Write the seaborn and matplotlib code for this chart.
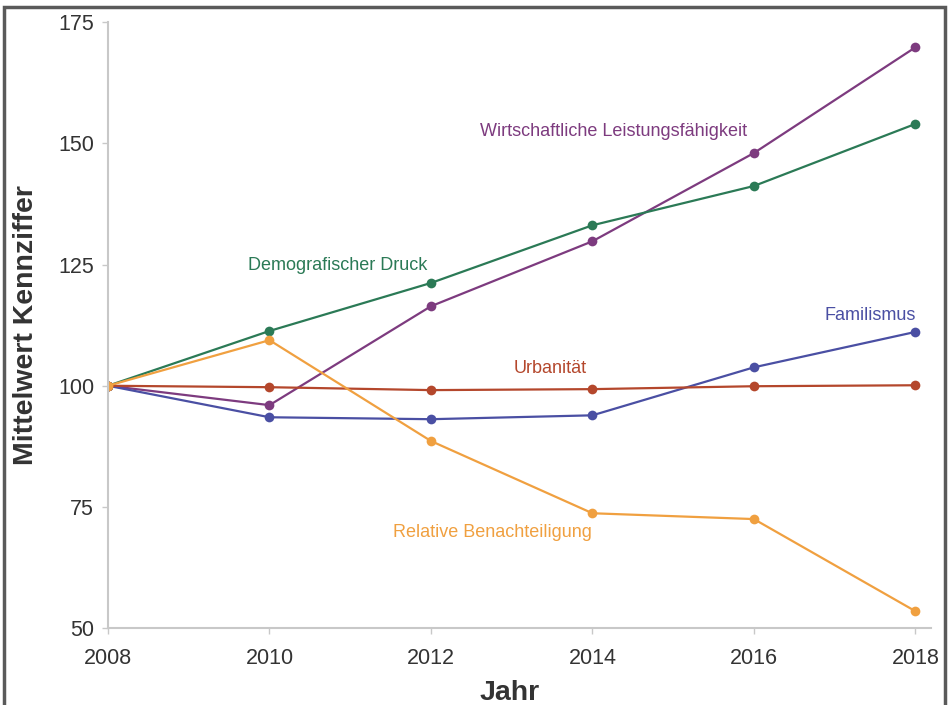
import matplotlib
matplotlib.use("Agg")
import matplotlib.pyplot as plt
from matplotlib.patches import Rectangle
import pandas as pd
import seaborn as sns

# Data
years = [2008, 2010, 2012, 2014, 2016, 2018]
wirtschaft = [100, 96.0, 116.4, 129.8, 148.0, 169.8]
demografie = [100, 111.3, 121.2, 133.1, 141.2, 154.0]
familismus = [100, 93.5, 93.1, 93.9, 103.8, 111.1]
urbanitaet = [100, 99.7, 99.1, 99.3, 99.9, 100.1]
benachteiligung = [100, 109.4, 88.6, 73.7, 72.5, 53.5]

series_names = [
    "Wirtschaftliche Leistungsfähigkeit",
    "Demografischer Druck",
    "Familismus",
    "Urbanität",
    "Relative Benachteiligung",
]
series_values = [wirtschaft, demografie, familismus, urbanitaet, benachteiligung]
colors = ["#7d3b7f", "#2b7a56", "#4a4fa3", "#b4472c", "#f0a040"]

# label placement (x, y in data units)
label_pos = [(2014.26, 152.5), (2010.84, 124.9), (2017.44, 114.4), (2013.48, 103.6), (2012.76, 69.8)]

# Long format for seaborn
rows = []
for name, vals in zip(series_names, series_values):
    for yr, v in zip(years, vals):
        rows.append({"Jahr": yr, "Wert": v, "Serie": name})
df = pd.DataFrame(rows)

sns.set_style("white")
plt.rcParams["font.family"] = ["Liberation Sans", "DejaVu Sans"]

fig = plt.figure(figsize=(9.5, 7.05), dpi=100)
ax = fig.add_axes([0.1137, 0.109, 0.866, 0.8596])

sns.lineplot(
    data=df, x="Jahr", y="Wert", hue="Serie",
    palette=dict(zip(series_names, colors)),
    marker="o", markersize=7, markeredgewidth=0,
    linewidth=1.6, legend=False, ax=ax,
)

for name, col, (tx, ty) in zip(series_names, colors, label_pos):
    ax.text(tx, ty, name, color=col, fontsize=13, ha="center", va="center")

ax.set_xlim(2008, 2018.19)
ax.set_ylim(50, 175)
ax.set_xticks([2008, 2010, 2012, 2014, 2016, 2018])
ax.set_yticks([50, 75, 100, 125, 150, 175])
ax.tick_params(axis="both", labelsize=15.5, colors="#c8c8c8", labelcolor="#333333",
               length=4, width=1, direction="out", bottom=True, left=True)
ax.tick_params(axis="x", pad=10)
ax.tick_params(axis="y", pad=6)

sns.despine(ax=ax)
for side in ["left", "bottom"]:
    ax.spines[side].set_color("#c8c8c8")
    ax.spines[side].set_linewidth(1.5)

ax.set_xlabel("Jahr", fontsize=20.5, fontweight="bold", color="#333333")
ax.set_ylabel("Mittelwert Kennziffer", fontsize=20.5, fontweight="bold", color="#333333")
ax.xaxis.set_label_coords(0.488, -0.085)
ax.yaxis.set_label_coords(-0.084, 0.5)

# outer frame
fig.patches.append(Rectangle((0.004, -0.02), 0.991, 1.01, transform=fig.transFigure,
                             fill=False, lw=2.5, ec="#5a5a5a"))

fig.savefig("out.png", dpi=100)
